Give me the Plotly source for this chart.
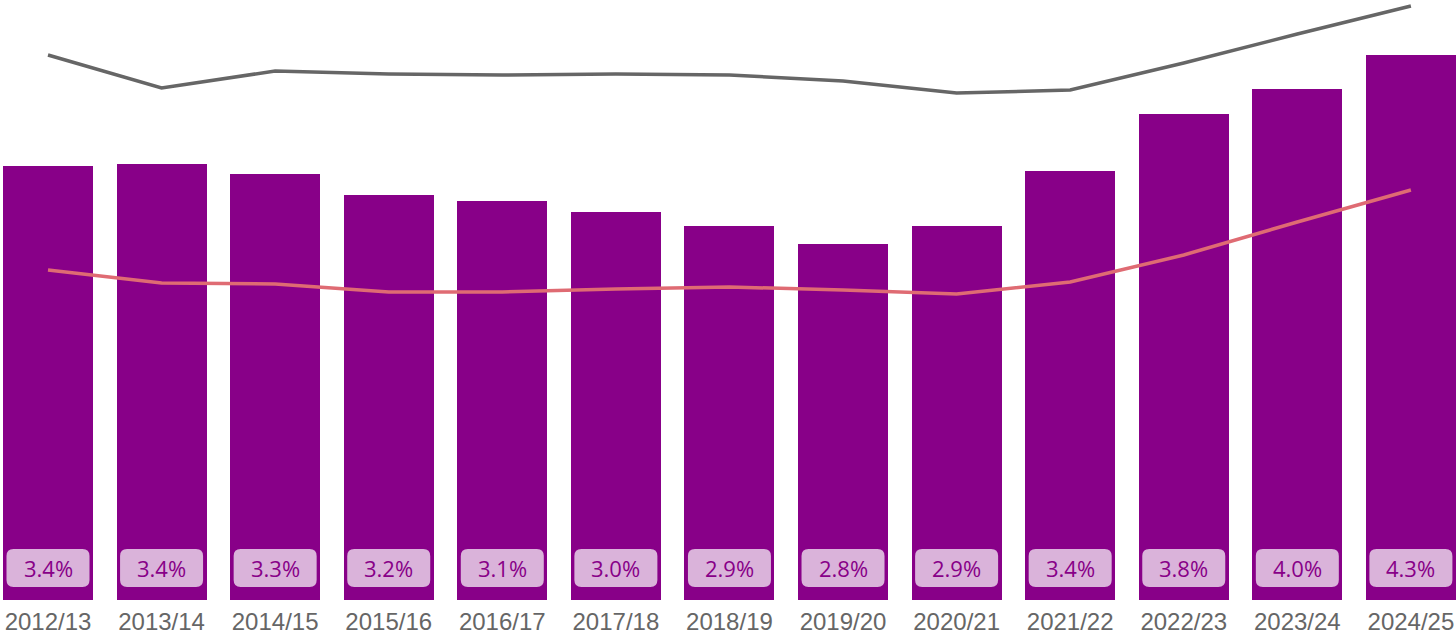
import plotly.graph_objects as go

years = ["2012/13", "2013/14", "2014/15", "2015/16", "2016/17", "2017/18", "2018/19",
         "2019/20", "2020/21", "2021/22", "2022/23", "2023/24", "2024/25"]
bar_values = [434, 436, 426, 405, 399, 388, 374, 356, 374, 429, 486, 511, 545]
grey_line = [545, 512, 529, 526, 525, 526, 525, 519, 507, 510, 537, 566, 594]
red_line = [330, 317, 316, 308, 308, 311, 313, 310, 306, 318, 345, 378, 410]
pct_labels = ["3.4%", "3.4%", "3.3%", "3.2%", "3.1%", "3.0%", "2.9%",
              "2.8%", "2.9%", "3.4%", "3.8%", "4.0%", "4.3%"]

PURPLE = "#880088"
idx = list(range(len(years)))

fig = go.Figure()
fig.add_trace(go.Bar(x=idx, y=bar_values, marker=dict(color=PURPLE, line=dict(width=0)),
                     width=0.792, hoverinfo="skip"))
fig.add_trace(go.Scatter(x=idx, y=grey_line, mode="lines",
                         line=dict(color="#666666", width=3.5), cliponaxis=False))
fig.add_trace(go.Scatter(x=idx, y=red_line, mode="lines",
                         line=dict(color="#DF6B73", width=3.5), cliponaxis=False))

label_y = 32
w, h, r = 41.5, 19, 7
path = (f"M {-w+r},{-h} L {w-r},{-h} Q {w},{-h} {w},{-h+r} L {w},{h-r} Q {w},{h} {w-r},{h} "
        f"L {-w+r},{h} Q {-w},{h} {-w},{h-r} L {-w},{-h+r} Q {-w},{-h} {-w+r},{-h} Z")
for i, lab in zip(idx, pct_labels):
    fig.add_shape(type="path", xref="x", yref="y", xsizemode="pixel", ysizemode="pixel",
                  xanchor=i, yanchor=label_y, path=path,
                  fillcolor="#DAB3DA", line=dict(width=0), layer="above")
    fig.add_annotation(x=i, y=label_y, text=lab, showarrow=False,
                       font=dict(family="Open Sans, Noto Sans, sans-serif", size=22, color=PURPLE))

fig.update_layout(
    width=1456, height=638,
    margin=dict(l=0, r=0, t=0, b=38),
    paper_bgcolor="white", plot_bgcolor="white",
    showlegend=False, bargap=0,
    xaxis=dict(range=[-0.4226, 12.397], tickmode="array", tickvals=idx, ticktext=years,
               showgrid=False, zeroline=False, showline=False, ticks="",
               ticklabeloverflow="allow", ticklabelstandoff=5,
               tickfont=dict(family="Liberation Sans, Arial, sans-serif", size=24, color="#666666")),
    yaxis=dict(range=[0, 600], visible=False, showgrid=False, zeroline=False),
)

fig.write_html("out.html", config={"displayModeBar": False},
               post_script="document.body.style.margin='0';document.body.style.overflow='hidden';")
